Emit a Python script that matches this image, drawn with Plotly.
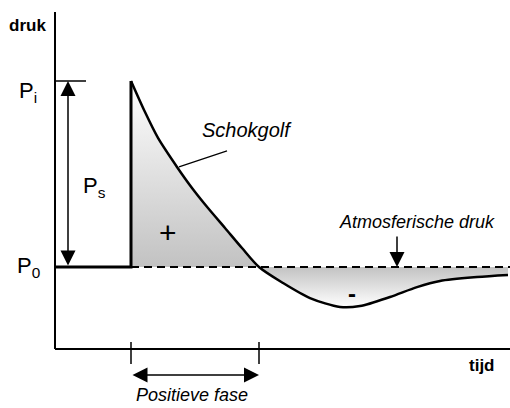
import plotly.graph_objects as go

# pressure wave (time in arbitrary units, pressure relative to P0, Pi - P0 = 1)
t_curve = [0.76, 0.90, 1.03, 1.22, 1.37, 1.53, 1.70, 1.87, 2.04, 2.28, 2.55, 2.85, 3.05, 3.35, 3.62, 3.85, 4.22, 4.53]
p_curve = [1.00, 0.833, 0.694, 0.538, 0.425, 0.317, 0.210, 0.102, 0.0, -0.086, -0.167, -0.215, -0.210, -0.161, -0.108, -0.075, -0.054, -0.043]
cross_idx = 8  # index where the curve crosses P0

t_arrival = 0.76
t_pos_end = 2.04
p0 = 0.0
pi_ = 1.0
t_end = 4.55
p_axis = -0.441
p_top = 1.371

FONT = "Arial, Liberation Sans, sans-serif"

fig = go.Figure()

# shaded areas
fig.add_trace(go.Scatter(
    x=t_curve[:cross_idx + 1], y=p_curve[:cross_idx + 1], mode="lines",
    line=dict(width=0, shape="spline", smoothing=0.8), fill="tozeroy",
    fillgradient=dict(type="vertical", start=0, stop=1,
                      colorscale=[[0, "#c2c2c2"], [1, "#ffffff"]]),
    hoverinfo="skip"))
fig.add_trace(go.Scatter(
    x=t_curve[cross_idx:], y=p_curve[cross_idx:], mode="lines",
    line=dict(width=0, shape="spline", smoothing=0.8), fill="tozeroy",
    fillgradient=dict(type="vertical", start=-0.215, stop=0,
                      colorscale=[[0, "#ffffff"], [1, "#c2c2c2"]]),
    hoverinfo="skip"))

# atmospheric pressure (dashed)
fig.add_trace(go.Scatter(
    x=[t_arrival, t_end], y=[p0, p0], mode="lines",
    line=dict(color="black", width=2, dash="8px,5px"), hoverinfo="skip"))

# P0 before arrival + shock front
fig.add_trace(go.Scatter(
    x=[0, t_arrival, t_arrival], y=[p0, p0, pi_], mode="lines",
    line=dict(color="black", width=3), hoverinfo="skip"))

# shock wave curve
fig.add_trace(go.Scatter(
    x=t_curve, y=p_curve, mode="lines",
    line=dict(color="black", width=2.5, shape="spline", smoothing=0.8), hoverinfo="skip"))

shapes = [
    # axes
    dict(type="line", x0=0, x1=0, y0=p_axis, y1=p_top, line=dict(color="black", width=2)),
    dict(type="line", x0=0, x1=t_end, y0=p_axis, y1=p_axis, line=dict(color="black", width=2)),
    # Pi level tick
    dict(type="line", x0=0, x1=0.31, y0=pi_, y1=pi_, line=dict(color="black", width=1.5)),
    # positive phase ticks
    dict(type="line", x0=t_arrival, x1=t_arrival, y0=-0.403, y1=-0.522, line=dict(color="black", width=1.5)),
    dict(type="line", x0=t_pos_end, x1=t_pos_end, y0=-0.403, y1=-0.522, line=dict(color="black", width=1.5)),
    # Schokgolf leader
    dict(type="line", x0=1.24, x1=1.72, y0=0.538, y1=0.624, line=dict(color="black", width=1.2)),
]

arrow = dict(xref="x", yref="y", axref="x", ayref="y", text="", showarrow=True,
             arrowhead=2, arrowsize=2.0, arrowwidth=1.5, arrowcolor="black")

annotations = [
    dict(arrow, x=0.13, y=pi_, ax=0.13, ay=p0, arrowside="end+start"),
    dict(arrow, x=t_pos_end, y=-0.581, ax=t_arrival, ay=-0.581, arrowside="end+start"),
    dict(arrow, x=3.42, y=p0, ax=3.42, ay=0.172),
    dict(x=-0.27, y=pi_ - 0.06, text="P<sub>i</sub>", showarrow=False,
         font=dict(family=FONT, size=22, color="black")),
    dict(x=-0.27, y=p0, text="P<sub>0</sub>", showarrow=False,
         font=dict(family=FONT, size=22, color="black")),
    dict(x=0.39, y=0.43, text="P<sub>s</sub>", showarrow=False,
         font=dict(family=FONT, size=22, color="black")),
    dict(x=-0.28, y=1.30, text="<b>druk</b>", showarrow=False,
         font=dict(family=FONT, size=17, color="black")),
    dict(x=4.27, y=-0.527, text="<b>tijd</b>", showarrow=False,
         font=dict(family=FONT, size=17, color="black")),
    dict(x=1.92, y=0.737, text="<i>Schokgolf</i>", showarrow=False,
         font=dict(family=FONT, size=20, color="black")),
    dict(x=3.62, y=0.242, text="<i>Atmosferische druk</i>", showarrow=False,
         font=dict(family=FONT, size=18, color="black")),
    dict(x=1.37, y=-0.688, text="<i>Positieve fase</i>", showarrow=False,
         font=dict(family=FONT, size=18, color="black")),
    dict(x=1.13, y=0.188, text="+", showarrow=False,
         font=dict(family=FONT, size=30, color="black")),
    dict(x=2.97, y=-0.140, text="<b>-</b>", showarrow=False,
         font=dict(family=FONT, size=24, color="black")),
]

fig.update_layout(
    width=510, height=408,
    margin=dict(l=0, r=0, t=0, b=0),
    paper_bgcolor="white", plot_bgcolor="white",
    showlegend=False,
    xaxis=dict(range=[-0.55, 4.55], visible=False, fixedrange=True),
    yaxis=dict(range=[-0.758, 1.4355], visible=False, fixedrange=True),
    shapes=shapes, annotations=annotations,
)

fig.write_html("out.html", config={"displayModeBar": False},
               post_script="document.body.style.margin='0';")
